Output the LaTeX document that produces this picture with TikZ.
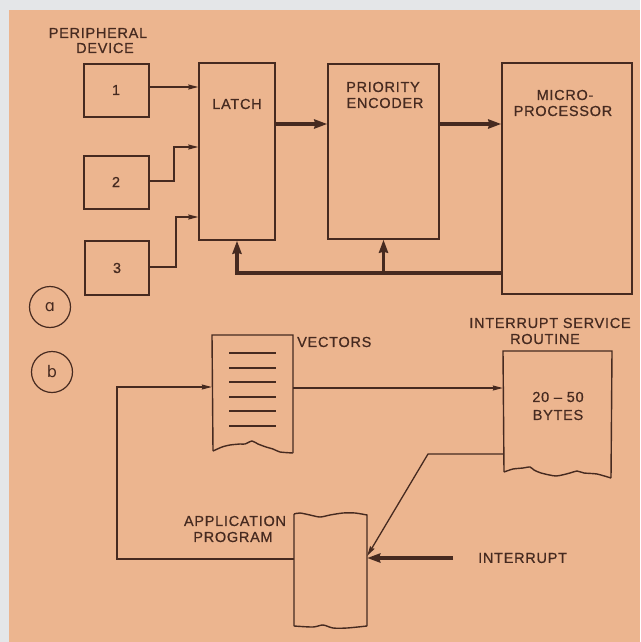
\documentclass[tikz,border=0pt]{standalone}
\usepackage{fontspec}
\setmainfont[LetterSpace=5,FakeBold=0.6]{Liberation Sans}
\newfontfamily\circfont{DejaVu Sans}
\usetikzlibrary{arrows.meta,calc}
\definecolor{peach}{RGB}{236,181,143}
\definecolor{margin}{RGB}{228,230,232}
\definecolor{ink}{RGB}{70,42,32}
\begin{document}
\begin{tikzpicture}[x=1pt,y=-1pt,line join=miter,
  blk/.style={draw=ink,line width=1.4pt,inner sep=0pt},
  ghost/.style={inner sep=0pt},
  lbl/.style={text=ink,font=\fontsize{14.5}{16}\selectfont,inner sep=0pt},
  thinarr/.style={draw=ink,line width=1.3pt,-{Stealth[length=10pt,width=5pt,inset=1pt]}},
  thkarr/.style={draw=ink,line width=3.5pt,-{Stealth[length=13pt,width=9pt,inset=1pt]}},
  ring/.style={draw=ink,circle,line width=1.2pt,minimum size=41pt,inner sep=0pt,text=ink,font=\circfont\fontsize{16}{18}\selectfont}]
\useasboundingbox (0,0) rectangle (640,642);
\fill[margin] (0,0) rectangle (640,642);
\fill[peach] (9,10) rectangle (640,642);

% ---------- part a ----------
\node[blk,minimum width=65pt,minimum height=53pt] (d1) at (116.5,90.5) {};
\node[blk,minimum width=65pt,minimum height=53pt] (d2) at (116.5,182.5) {};
\node[blk,minimum width=64pt,minimum height=54pt] (d3) at (117,268) {};
\node[blk,minimum width=76pt,minimum height=177pt] (latch) at (237,151.5) {};
\node[blk,minimum width=111pt,minimum height=175pt] (enc) at (383.5,151.5) {};
\node[blk,minimum width=130pt,minimum height=231pt] (mp) at (567,178.5) {};

\node[lbl] (tPer) at (98,33) {PERIPHERAL};
\node[lbl] (tDev) at (105,48) {DEVICE};
\node[lbl] (t1) at (116,90) {1};
\node[lbl] (t2) at (116,182) {2};
\node[lbl] (t3) at (117,268) {3};
\node[lbl] (tLatch) at (237,104) {LATCH};
\node[lbl] (tPri) at (383,87) {PRIORITY};
\node[lbl] (tEnc) at (385,103) {ENCODER};
\node[lbl] (tMic) at (565,95) {MICRO-};
\node[lbl] (tPro) at (563,111) {PROCESSOR};

\coordinate (r1) at (0,87);
\draw[thinarr] (d1.east |- r1) -- (latch.west |- r1);
\coordinate (j2) at (174,181);
\coordinate (k2) at (174,147);
\draw[thinarr] (d2.east |- j2) -- (j2) -- (k2) -- (latch.west |- k2);
\coordinate (j3) at (176,267);
\coordinate (k3) at (176,217);
\draw[thinarr] (d3.east |- j3) -- (j3) -- (k3) -- (latch.west |- k3);

\coordinate (r4) at (0,124);
\draw[thkarr] (latch.east |- r4) -- (enc.west |- r4);
\draw[thkarr] (enc.east |- r4) -- (mp.west |- r4);
\coordinate (fb) at (0,273);
\draw[thkarr] (mp.west |- fb) -- (latch.south |- fb) -- (latch.south);
\draw[thkarr] (enc.south |- fb) -- (enc.south);

\node[ring] (ca) at (50,307) {ɑ};
\node[ring] (cb) at (52,372) {b};

% ---------- part b ----------
\node[ghost,minimum width=81pt,minimum height=118pt] (vec) at (252.5,394) {};
\node[ghost,minimum width=109pt,minimum height=127pt] (isr) at (557.5,414.5) {};
\node[ghost,minimum width=73pt,minimum height=112pt] (app) at (330.5,570) {};

\draw[ink,line width=1.4pt] (293,453) -- (293,335) -- (212,335) -- (213,451)
  plot[smooth,tension=0.4] coordinates {(213,451) (222,447) (230,445) (240,444) (245,444) (252,441) (258,444) (266,447) (273,449) (280,452) (293,453)};
\foreach \yy in {353,368,382,397,411,426}
  \draw[ink,line width=1.3pt] (229,\yy) -- (276,\yy);

\draw[ink,line width=1.4pt] (611,478) -- (612,351) -- (503,351) -- (504,472)
  plot[smooth,tension=0.4] coordinates {(504,472) (513,469) (523,468) (530,467) (534,470) (541,473) (556,476) (570,473) (577,471) (584,473) (597,474) (611,478)};

\draw[ink,line width=1.4pt] (294,626) -- (294,514)
  plot[smooth,tension=0.5] coordinates {(294,514) (300,513) (310,515) (320,517) (330,515) (343,513) (355,513) (367,515)}
  -- (367,626)
  plot[smooth,tension=0.5] coordinates {(367,626) (347,628) (333,628) (323,625) (313,627) (294,626)};

\node[lbl,anchor=west] (tVec) at (297,342) {VECTORS};
\node[lbl] (tIsr) at (550,323) {INTERRUPT SERVICE};
\node[lbl] (tRou) at (545,339) {ROUTINE};
\node[lbl] (tNum) at (558,397) {20 – 50};
\node[lbl] (tByt) at (558,415) {BYTES};
\node[lbl] (tApp) at (235,521) {APPLICATION};
\node[lbl] (tPrg) at (233,537) {PROGRAM};
\node[lbl,anchor=west] (tInt) at (478,558) {INTERRUPT};

\coordinate (r5) at (0,388);
\draw[thinarr] (vec.east |- r5) -- (isr.west |- r5);
\coordinate (r6) at (428,454);
\coordinate (r7) at (0,556);
\draw[thinarr] (isr.west |- r6) -- (r6) -- (app.east |- r7);
\coordinate (intr) at (453,558);
\draw[thkarr] (intr) -- (app.east |- intr);
\coordinate (r8) at (117,559);
\coordinate (r9) at (117,387);
\draw[thinarr] (app.west |- r8) -- (r8) -- (r9) -- (vec.west |- r9);
\end{tikzpicture}
\end{document}
